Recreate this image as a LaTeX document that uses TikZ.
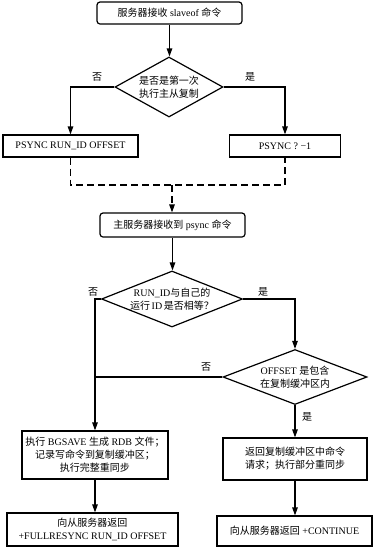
\documentclass[tikz,border=0pt]{standalone}
\usepackage{fontspec}
\setmainfont{Liberation Serif}
\newfontfamily\cjk{Noto Sans CJK SC}
\newcommand{\zh}[1]{{\cjk #1}}
\usetikzlibrary{arrows.meta, shapes.geometric}

\begin{document}
\begin{tikzpicture}[x=1pt, y=-1pt, >={Triangle[length=8pt, width=5.5pt]}, line width=1.2pt,
    font=\fontsize{10}{13}\selectfont,
    box/.style={draw, rectangle, align=center, inner sep=1pt},
    rbox/.style={box, rounded corners=3pt},
    test/.style={draw, diamond, align=center, inner sep=0pt},
    dashline/.style={dash pattern=on 7pt off 4pt}]
  \useasboundingbox (0, 0) rectangle (374, 547);
  \node[rbox, minimum width=145, minimum height=22] (n1) at (169.5, 13) {\zh{服务器接收} slaveof \zh{命令}};
  \node[test, aspect=1.8, minimum width=108, minimum height=60] (d1) at (169, 87)
    {\zh{是否是第一次}\\\zh{执行主从复制}};
  \node[box, minimum width=135, minimum height=22] (n2) at (70.5, 146) {PSYNC RUN\_ID OFFSET};
  \node[box, minimum width=111, minimum height=22] (n3) at (285, 146) {PSYNC ? −1};
  \coordinate (m1) at (172, 185);
  \node[rbox, minimum width=145, minimum height=24] (n4) at (172.5, 225) {\zh{主服务器接收到} psync \zh{命令}};
  \node[test, aspect=2.5, minimum width=141, minimum height=56] (d2) at (172, 299)
    {RUN\_ID\zh{与自己的}\\\zh{运行}\,ID\,\zh{是否相等？}};
  \node[test, aspect=2.6, minimum width=144, minimum height=55] (d3) at (295, 377)
    {OFFSET \zh{是包含}\\\zh{在复制缓冲区内}};
  \node[box, minimum width=146, minimum height=48] (n5) at (95, 455)
    {\zh{执行} BGSAVE \zh{生成} RDB \zh{文件；}\\\zh{记录写命令到复制缓冲区；}\\\zh{执行完整重同步}};
  \node[box, minimum width=144, minimum height=42] (n6) at (295, 459)
    {\zh{返回复制缓冲区中命令}\\\zh{请求；执行部分重同步}};
  \node[box, minimum width=171, minimum height=33] (n7) at (92.5, 529.5)
    {\zh{向从服务器返回}\\+FULLRESYNC RUN\_ID OFFSET};
  \node[box, minimum width=155, minimum height=30] (n8) at (294.5, 531)
    {\zh{向从服务器返回} +CONTINUE};
  % branch labels
  \node (l1) at (97, 77) {\zh{否}};
  \node (l2) at (250, 77) {\zh{是}};
  \node (l3) at (93, 292) {\zh{否}};
  \node (l4) at (263, 292) {\zh{是}};
  \node (l5) at (206, 367) {\zh{否}};
  \node (l6) at (307, 417) {\zh{是}};
  % connectors
  \draw[->] (n1) -- (n1 |- d1.north);
  \draw[->] (d1.west) -| (n2.north);
  \draw[->] (d1.east) -| (n3.north);
  \draw[dashline] (n2.south) |- (m1) -| (n3.south);
  \draw[dashline, ->] (m1) -- (m1 |- n4.north);
  \draw[->] (n4) -- (n4 |- d2.north);
  \draw[->] (d2.west) -| (n5.north);
  \draw (d3.west) -- (d3.west -| n5.north);
  \draw[->] (d2.east) -| (d3.north);
  \draw[->] (d3.south) -- (n6.north);
  \draw[->] (n5.south) -- (n5.south |- n7.north);
  \draw[->] (n6.south) -- (n6.south |- n8.north);
\end{tikzpicture}
\end{document}
